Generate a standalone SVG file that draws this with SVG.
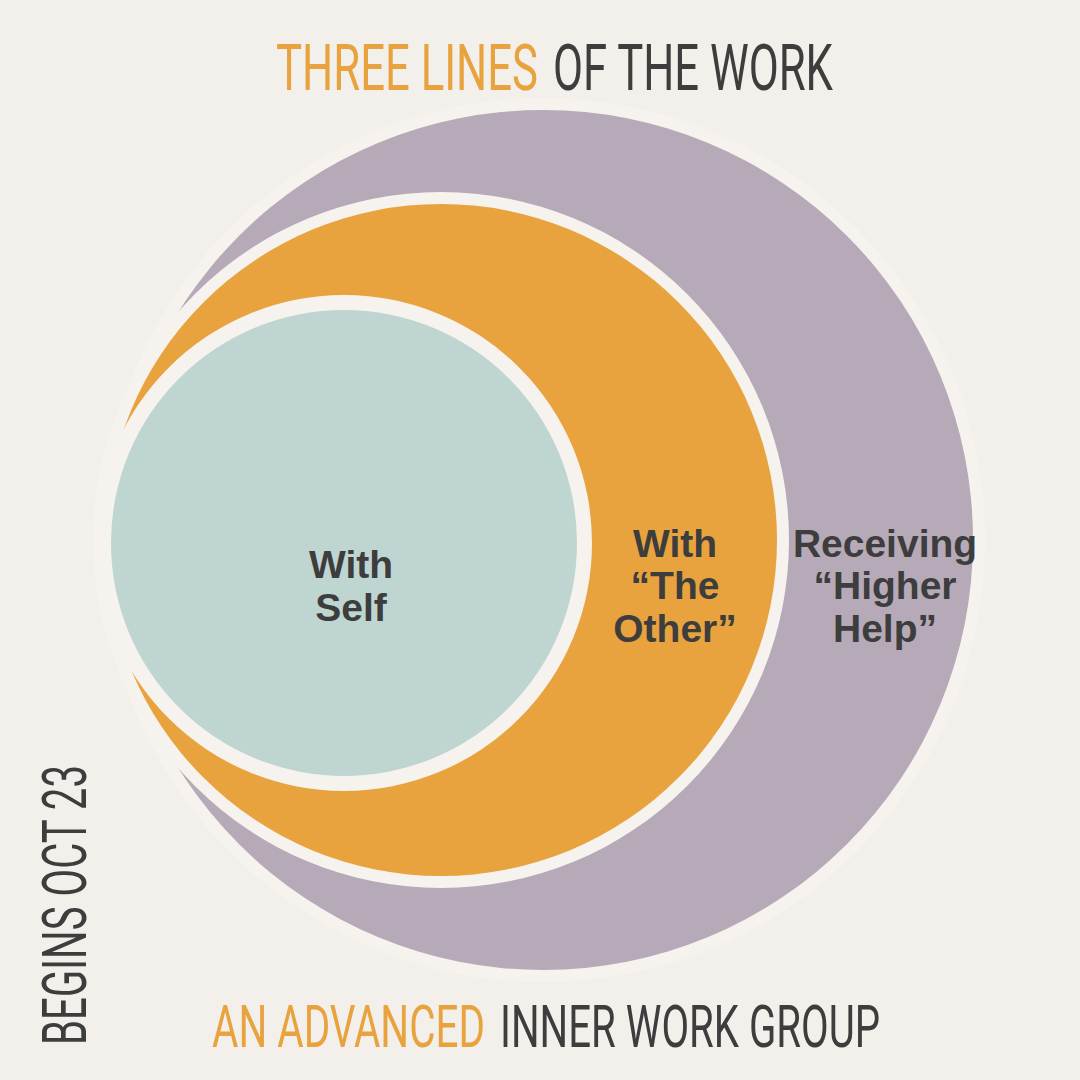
<svg xmlns="http://www.w3.org/2000/svg" width="1080" height="1080" viewBox="0 0 1080 1080">
  <style>
    .cond { font-family: Roboto, "Liberation Sans", sans-serif; font-weight: 400; }
    .org { fill: #E8A33F; }
    .dk { fill: #3D3D3D; }
    .lbl { font-family: "Liberation Sans", Arial, sans-serif; font-weight: bold; font-size: 39px; fill: #3D3D3D; text-anchor: middle; }
    .gap { fill: #F6F3EE; }
  </style>
  <rect width="1080" height="1080" fill="#F3F0EB"/>

  <g id="higher-help">
    <circle class="gap" cx="543" cy="540" r="442"/>
    <circle cx="543" cy="540" r="430" fill="#B6AAB8"/>
  </g>
  <g id="the-other">
    <circle class="gap" cx="441" cy="540" r="348"/>
    <circle cx="441" cy="540" r="336" fill="#E8A33F"/>
  </g>
  <g id="self">
    <circle class="gap" cx="344" cy="543" r="248"/>
    <circle cx="344" cy="543" r="233" fill="#BFD5D2"/>
  </g>
  <g id="connectors"></g>

  <g id="labels">
    <text class="lbl" x="351" y="578">With</text>
    <text class="lbl" x="351" y="621">Self</text>
    <text class="lbl" x="675" y="557">With</text>
    <text class="lbl" x="675" y="599">“The</text>
    <text class="lbl" x="675" y="642">Other”</text>
    <text class="lbl" x="885" y="557">Receiving</text>
    <text class="lbl" x="885" y="599">“Higher</text>
    <text class="lbl" x="885" y="642">Help”</text>
  </g>

  <g id="title" transform="scale(0.7,1)">
    <text class="cond org" x="394.3" y="90" font-size="65" textLength="374.3" lengthAdjust="spacingAndGlyphs">THREE LINES</text>
    <text class="cond dk" x="790" y="90" font-size="65" textLength="400" lengthAdjust="spacingAndGlyphs">OF THE WORK</text>
  </g>
  <g id="subtitle" transform="scale(0.7,1)">
    <text class="cond org" x="302.9" y="1047" font-size="59" textLength="390" lengthAdjust="spacingAndGlyphs">AN ADVANCED</text>
    <text class="cond dk" x="714.3" y="1047" font-size="59" textLength="542.9" lengthAdjust="spacingAndGlyphs">INNER WORK GROUP</text>
  </g>
  <g id="date">
    <text class="cond dk" transform="translate(86,1045) rotate(-90) scale(0.7,1)" font-size="61" textLength="400" lengthAdjust="spacingAndGlyphs">BEGINS OCT 23</text>
  </g>
</svg>
